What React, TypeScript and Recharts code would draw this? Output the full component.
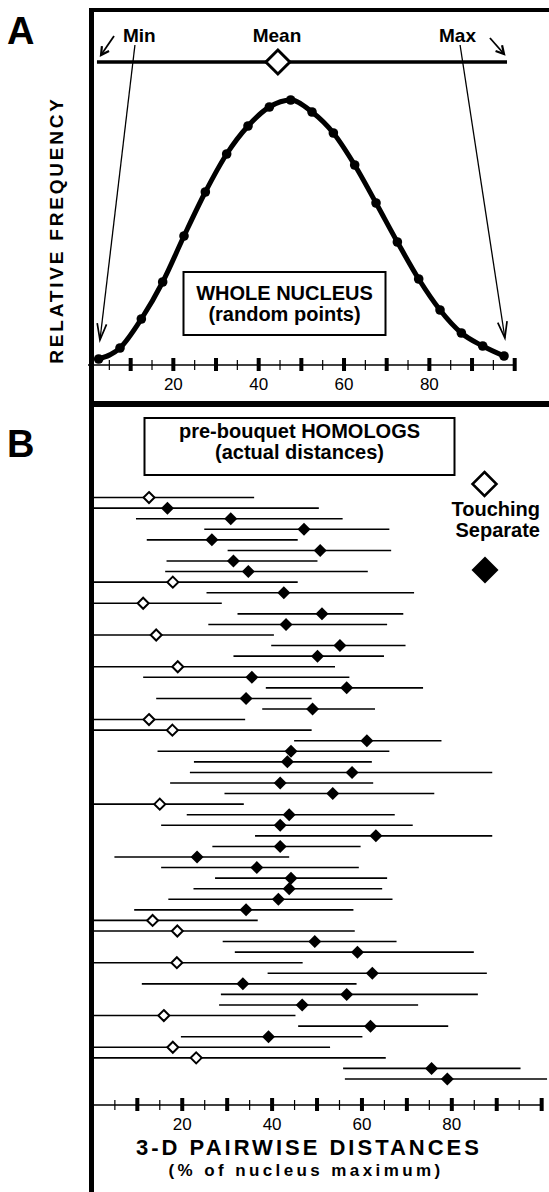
import {
  ErrorBar,
  Line,
  LineChart,
  ReferenceDot,
  ReferenceLine,
  Scatter,
  ScatterChart,
  XAxis,
  YAxis,
} from "recharts";

const FONT = '"Liberation Sans", Arial, Helvetica, sans-serif';

// A: whole nucleus, random points (bin centre, relative frequency)
const binCenters = [2.5, 7.5, 12.5, 17.5, 22.5, 27.5, 32.5, 37.5, 42.5, 47.5, 52.5, 57.5, 62.5, 67.5, 72.5, 77.5, 82.5, 87.5, 92.5, 97.5];
const binFreq = [0.12, 0.34, 0.92, 1.66, 2.58, 3.46, 4.22, 4.78, 5.16, 5.3, 5.06, 4.64, 4.0, 3.24, 2.46, 1.72, 1.1, 0.64, 0.38, 0.18];
const wholeMin = 2.1;
const wholeMean = 44.5;
const wholeMax = 98.2;

// B: pre-bouquet homolog pairs, one row each (min / mean / max distance)
const pairMin = [0, 0, 9.7, 24.9, 12.1, 30.1, 16.5, 16.2, 0, 25.4, 0, 32.3, 25.8, 0, 39.8, 31.4, 0, 11.3, 38.6, 14.2, 37.8, 0, 0, 44.9, 14.5, 22.6, 21.7, 17.3, 29.4, 0, 21.0, 15.3, 36.2, 26.7, 4.9, 15.3, 27.3, 22.5, 16.9, 9.3, 0, 0, 29.0, 31.7, 0, 39.0, 11.0, 28.6, 28.2, 0, 45.8, 19.7, 0, 0, 55.8, 56.2];
const pairMean = [12.6, 16.7, 30.8, 47.1, 26.6, 50.7, 31.4, 34.7, 17.9, 42.6, 11.3, 51.1, 43.1, 14.2, 55.1, 50.1, 19.0, 35.5, 56.6, 34.2, 49.0, 12.6, 17.8, 61.1, 44.2, 43.4, 57.8, 41.8, 53.5, 15.0, 43.8, 41.8, 63.1, 41.8, 23.3, 36.6, 44.2, 43.8, 41.4, 34.2, 13.4, 18.9, 49.5, 59.0, 18.8, 62.3, 33.5, 56.6, 46.7, 15.9, 61.9, 39.2, 17.9, 23.1, 75.5, 79.0];
const pairMax = [36.0, 50.4, 55.7, 66.1, 45.7, 66.5, 50.1, 61.3, 45.7, 71.6, 28.8, 69.2, 65.6, 40.4, 69.7, 64.9, 54.0, 57.2, 73.6, 48.8, 62.9, 34.0, 48.8, 77.7, 66.1, 62.2, 89.0, 62.5, 76.1, 33.7, 67.3, 71.3, 89.0, 59.7, 43.8, 59.3, 65.6, 64.5, 66.8, 58.1, 36.8, 58.4, 67.7, 84.9, 46.8, 87.8, 58.8, 85.8, 72.5, 45.2, 79.2, 60.1, 52.9, 65.3, 95.3, 101.2];
// 1 = touching, 0 = separate
const pairTouching = [1, 0, 0, 0, 0, 0, 0, 0, 1, 0, 1, 0, 0, 1, 0, 0, 1, 0, 0, 0, 0, 1, 1, 0, 0, 0, 0, 0, 0, 1, 0, 0, 0, 0, 0, 0, 0, 0, 0, 0, 1, 1, 0, 0, 1, 0, 0, 0, 0, 1, 0, 0, 1, 1, 0, 0];

const axisTicks = [5, 10, 15, 20, 25, 30, 35, 40, 45, 50, 55, 60, 65, 70, 75, 80, 85, 90, 95, 100];
const axisLabels = [20, 40, 60, 80];

const wholeData = binCenters.map((x, i) => ({ x, freq: binFreq[i] }));
const pairRows = pairMean.map((mean, i) => ({
  row: i + 1,
  mean,
  spread: [mean - pairMin[i], pairMax[i] - mean],
  touching: pairTouching[i] === 1,
}));
const touchingRows = pairRows.filter((r) => r.touching);
const separateRows = pairRows.filter((r) => !r.touching);

function diamondPoints(cx: number, cy: number, r: number) {
  return `${cx},${cy - r} ${cx + r},${cy} ${cx},${cy + r} ${cx - r},${cy}`;
}

function AxisTick({ x, y, payload }: any) {
  const v = payload.value;
  const major = v % 10 === 0;
  return (
    <g>
      {major ? (
        <rect x={x - 2} y={y - 7} width={4} height={13} fill="#000" />
      ) : (
        <line x1={x} x2={x} y1={y - 5} y2={y + 5} stroke="#000" strokeWidth={1.2} />
      )}
      {axisLabels.includes(v) ? (
        <text x={x} y={y + 25} textAnchor="middle" fontSize={17} fontFamily={FONT} fill="#000">
          {v}
        </text>
      ) : null}
    </g>
  );
}

function Arrow(props: any) {
  const { x1, y1, x2, y2, head = 10, spread = 0.45, width = 1.4 } = props;
  const a = Math.atan2(y2 - y1, x2 - x1);
  const p1 = `${x2 - head * Math.cos(a - spread)},${y2 - head * Math.sin(a - spread)}`;
  const p2 = `${x2 - head * Math.cos(a + spread)},${y2 - head * Math.sin(a + spread)}`;
  return (
    <g>
      <line x1={x1} y1={y1} x2={x2} y2={y2} stroke="#000" strokeWidth={width} />
      <polyline points={`${p1} ${x2},${y2} ${p2}`} fill="none" stroke="#000" strokeWidth={width + 0.4} />
    </g>
  );
}

const OpenDiamond = (p: any) => (
  <polygon points={diamondPoints(p.cx, p.cy, 5.5)} fill="#fff" stroke="#000" strokeWidth={2} />
);
const FilledDiamond = (p: any) => <polygon points={diamondPoints(p.cx, p.cy, 6.5)} fill="#000" />;

export default function App() {
  return (
    <div style={{ position: "absolute", left: 0, top: 0, width: 549, height: 1192, background: "#fff", fontFamily: FONT }}>
      <div style={{ position: "absolute", left: 0, top: 0 }}>
        <LineChart width={549} height={405} data={wholeData} margin={{ top: 10, right: 34.3, left: 88, bottom: 0 }}>
          <XAxis
            dataKey="x"
            type="number"
            domain={[0, 100]}
            ticks={axisTicks}
            interval={0}
            height={40}
            tickSize={0}
            tickMargin={0}
            tickLine={false}
            axisLine={{ stroke: "#000", strokeWidth: 1.5 }}
            tick={<AxisTick />}
          />
          <YAxis hide type="number" domain={[0, 7.1]} />
          <ReferenceLine
            segment={[{ x: wholeMin, y: 6.06 }, { x: wholeMax, y: 6.06 }]}
            stroke="#000"
            strokeWidth={3.5}
          />
          <ReferenceLine segment={[{ x: 11.0, y: 6.4 }, { x: 2.8, y: 0.5 }]} shape={(p: any) => <Arrow {...p} head={17} spread={0.28} width={1.3} />} />
          <ReferenceLine segment={[{ x: 87.2, y: 6.4 }, { x: 97.7, y: 0.54 }]} shape={(p: any) => <Arrow {...p} head={17} spread={0.28} width={1.3} />} />
          <ReferenceLine segment={[{ x: 6.1, y: 6.58 }, { x: 3.05, y: 6.2 }]} shape={(p: any) => <Arrow {...p} head={9} spread={0.5} width={1.8} />} />
          <ReferenceLine segment={[{ x: 94.2, y: 6.54 }, { x: 97.5, y: 6.22 }]} shape={(p: any) => <Arrow {...p} head={9} spread={0.5} width={1.8} />} />
          <Line
            type="monotone"
            dataKey="freq"
            stroke="#000"
            strokeWidth={5}
            dot={{ r: 4.8, fill: "#000", stroke: "#000", strokeWidth: 0 }}
            isAnimationActive={false}
          />
          <ReferenceDot
            x={wholeMean}
            y={6.06}
            ifOverflow="visible"
            shape={(p: any) => (
              <polygon points={diamondPoints(p.cx, p.cy, 12)} fill="#fff" stroke="#000" strokeWidth={3} />
            )}
          />
        </LineChart>
      </div>

      <div style={{ position: "absolute", left: 0, top: 405 }}>
        <ScatterChart width={549} height={787} margin={{ top: 8, right: 0.6, left: 92.4, bottom: 57 }}>
          <XAxis
            dataKey="mean"
            type="number"
            domain={[0, 101.5]}
            ticks={axisTicks}
            interval={0}
            height={30}
            tickSize={0}
            tickMargin={0}
            tickLine={false}
            axisLine={false}
            tick={<AxisTick />}
          />
          <YAxis hide dataKey="row" type="number" domain={[-7, 58.46]} reversed />
          <ReferenceLine segment={[{ x: 0, y: 58.46 }, { x: 100, y: 58.46 }]} stroke="#000" strokeWidth={1.5} />
          <Scatter data={separateRows} shape={FilledDiamond} isAnimationActive={false}>
            <ErrorBar dataKey="spread" direction="x" width={0} stroke="#000" strokeWidth={1.6} isAnimationActive={false} />
          </Scatter>
          <Scatter data={touchingRows} shape={OpenDiamond} isAnimationActive={false}>
            <ErrorBar dataKey="spread" direction="x" width={0} stroke="#000" strokeWidth={1.6} isAnimationActive={false} />
          </Scatter>
        </ScatterChart>
      </div>

      <svg width={549} height={1192} style={{ position: "absolute", left: 0, top: 0, pointerEvents: "none" }} fontFamily={FONT}>
        {/* frame */}
        <rect x={89} y={8} width={460} height={4} fill="#000" />
        <rect x={89} y={8} width={5} height={1184} fill="#000" />
        <rect x={89} y={401} width={460} height={6} fill="#000" />

        <text x={7} y={44} fontSize={38} fontWeight="bold">A</text>
        <text x={7} y={457} fontSize={38} fontWeight="bold">B</text>

        <text x={123} y={42} fontSize={19} fontWeight="bold">Min</text>
        <text x={277} y={42} fontSize={19} fontWeight="bold" textAnchor="middle">Mean</text>
        <text x={439} y={42} fontSize={19} fontWeight="bold">Max</text>

        <text transform="translate(63,230) rotate(-90)" fontSize={19} fontWeight="bold" textAnchor="middle" letterSpacing={2.8}>
          RELATIVE FREQUENCY
        </text>

        <rect x={183.5} y={272} width={202} height={63} fill="none" stroke="#000" strokeWidth={2} />
        <text x={284.5} y={299.5} fontSize={20} fontWeight="bold" textAnchor="middle">WHOLE NUCLEUS</text>
        <text x={284.5} y={320.5} fontSize={20} fontWeight="bold" textAnchor="middle">(random points)</text>

        <rect x={144.5} y={418} width={310} height={57} fill="none" stroke="#000" strokeWidth={2} />
        <text x={299.5} y={438} fontSize={20} fontWeight="bold" textAnchor="middle">pre-bouquet HOMOLOGS</text>
        <text x={299.5} y={459} fontSize={20} fontWeight="bold" textAnchor="middle">(actual distances)</text>

        <polygon points={diamondPoints(484.5, 484, 12)} fill="#fff" stroke="#000" strokeWidth={2.5} />
        <text x={540} y={516} fontSize={20} fontWeight="bold" textAnchor="end">Touching</text>
        <text x={540} y={536.5} fontSize={20} fontWeight="bold" textAnchor="end">Separate</text>
        <polygon points={diamondPoints(485, 570, 13.5)} fill="#000" />

        <text x={309} y={1155} fontSize={22} fontWeight="bold" textAnchor="middle" letterSpacing={3}>
          3-D PAIRWISE DISTANCES
        </text>
        <text x={306} y={1176} fontSize={17} fontWeight="bold" textAnchor="middle" letterSpacing={3.4}>
          (% of nucleus maximum)
        </text>
      </svg>
    </div>
  );
}
